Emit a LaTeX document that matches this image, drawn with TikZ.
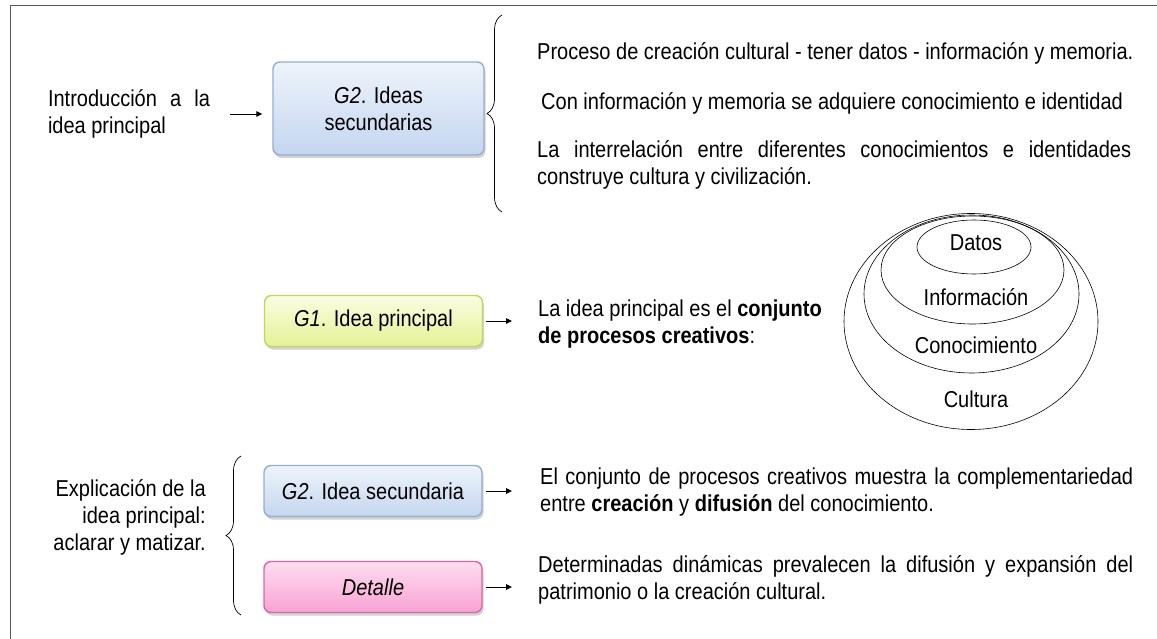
\documentclass[tikz,border=0pt]{standalone}
\usepackage{fontspec}
\setmainfont{Liberation Sans}[FakeStretch=0.87]
\usepackage{tikz}
\usetikzlibrary{positioning,arrows.meta,shapes.geometric,shadows,decorations.pathreplacing}
\definecolor{frameline}{HTML}{5A5A5A}
\definecolor{blueTop}{HTML}{EEF3FB}
\definecolor{blueBot}{HTML}{C4D6EF}
\definecolor{blueLine}{HTML}{93AED4}
\definecolor{yelTop}{HTML}{FAFDE2}
\definecolor{yelBot}{HTML}{E4F295}
\definecolor{yelLine}{HTML}{C2D55C}
\definecolor{pinkTop}{HTML}{FFDDF0}
\definecolor{pinkBot}{HTML}{F8A3D4}
\definecolor{pinkLine}{HTML}{DD64A8}
\tikzset{
  frame/.style={draw=frameline, line width=1pt},
  idea/.style={rectangle, rounded corners=7pt, line width=1.4pt, align=center,
    minimum width=218pt, drop shadow={shadow xshift=1.5pt, shadow yshift=-3pt, opacity=0.35}},
  ideaB/.style={idea, draw=blueLine, top color=blueTop, bottom color=blueBot},
  ideaY/.style={idea, draw=yelLine, top color=yelTop, bottom color=yelBot},
  ideaP/.style={idea, draw=pinkLine, top color=pinkTop, bottom color=pinkBot},
  txt/.style={inner sep=0pt, font=\fontsize{23}{27}\selectfont},
  link/.style={draw=black, line width=0.9pt, -{Triangle[length=6pt,width=5.5pt]}},
  brc/.style={draw=black, line width=0.7pt, decorate, decoration={brace, amplitude=15pt}},
  ring/.style={ellipse, draw=black, line width=0.6pt, inner sep=0pt},
}
\begin{document}
\hyphenpenalty=10000
\exhyphenpenalty=10000
\begin{tikzpicture}[x=1pt,y=-1pt]
  \useasboundingbox (0,0) rectangle (1157,639);
  \draw[frame] (1157,6) -- (10,6) -- (10,639);

  % upper part: introduction
  \node[txt, text width=162pt, align=justify] (intro) at (129,114)
    {Introducción a la idea principal};
  \node[ideaB, txt, inner sep=6pt, minimum width=211pt, minimum height=93pt] (g2top) at (378.5,108.5)
    {\textit{G2}. Ideas\\ secundarias};
  \draw[link, shorten <=20pt, shorten >=10pt] (intro.east) -- (intro.east -| g2top.west);
  \draw[brc] (502,212) -- (502,15) coordinate[pos=0.5] (topbrace);
  \node[txt, anchor=west] (sec1) at (537,53)
    {Proceso de creación cultural - tener datos - información y memoria.};
  \node[txt, anchor=west] (sec2) at (541,103)
    {Con información y memoria se adquiere conocimiento e identidad};
  \node[txt, anchor=west, text width=594pt, align=justify] (sec3) at (537,165)
    {La interrelación entre diferentes conocimientos e identidades construye cultura y civilización.};

  % main idea
  \node[ideaY, txt, inner sep=6pt, minimum height=51pt] (g1) at (373.5,321)
    {\textit{G1}. Idea principal};
  \node[txt, anchor=west, align=left] (g1txt) at (538,324)
    {La idea principal es el \textbf{conjunto}\\ \textbf{de procesos creativos}:};
  \draw[link, shorten <=3pt, shorten >=26pt] (g1.east) -- (g1.east -| g1txt.west);

  % nested ellipses
  \node[ring, minimum width=254pt, minimum height=216pt] (cultura) at (971,321.5) {};
  \node[ring, minimum width=215pt, minimum height=158pt] (conoc) at (971.5,294) {};
  \node[ring, minimum width=183pt, minimum height=108pt] (info) at (972.5,270) {};
  \node[ring, minimum width=114pt, minimum height=54pt] (datos) at (974,247) {};
  \node[txt] (datosLab) at (976,243) {Datos};
  \node[txt] (infoLab) at (976,297) {Información};
  \node[txt] (conocLab) at (976,345) {Conocimiento};
  \node[txt] (culturaLab) at (976,399) {Cultura};

  % lower part: explanation
  \node[txt, anchor=east, align=right] (expl) at (206,517)
    {Explicación de la\\ idea principal:\\ aclarar y matizar.};
  \draw[brc] (241,615) -- (241,456);
  \node[ideaB, txt, inner sep=6pt, minimum height=51pt] (g2sec) at (373,491)
    {\textit{G2}. Idea secundaria};
  \node[ideaP, txt, inner sep=6pt, minimum height=51pt] (det) at (373,587)
    {\textit{Detalle}};
  \node[txt, anchor=west, text width=593pt, align=justify] (g2txt) at (540,492)
    {El conjunto de procesos creativos muestra la complementariedad entre \textbf{creación} y \textbf{difusión} del conocimiento.};
  \node[txt, anchor=west, text width=595pt, align=justify] (dettxt) at (538,580)
    {Determinadas dinámicas prevalecen la difusión y expansión del patrimonio o la creación cultural.};
  \draw[link, shorten <=3pt, shorten >=28pt] (g2sec.east) -- (g2sec.east -| g2txt.west);
  \draw[link, shorten <=3pt, shorten >=26pt] (det.east) -- (det.east -| dettxt.west);
\end{tikzpicture}
\end{document}
